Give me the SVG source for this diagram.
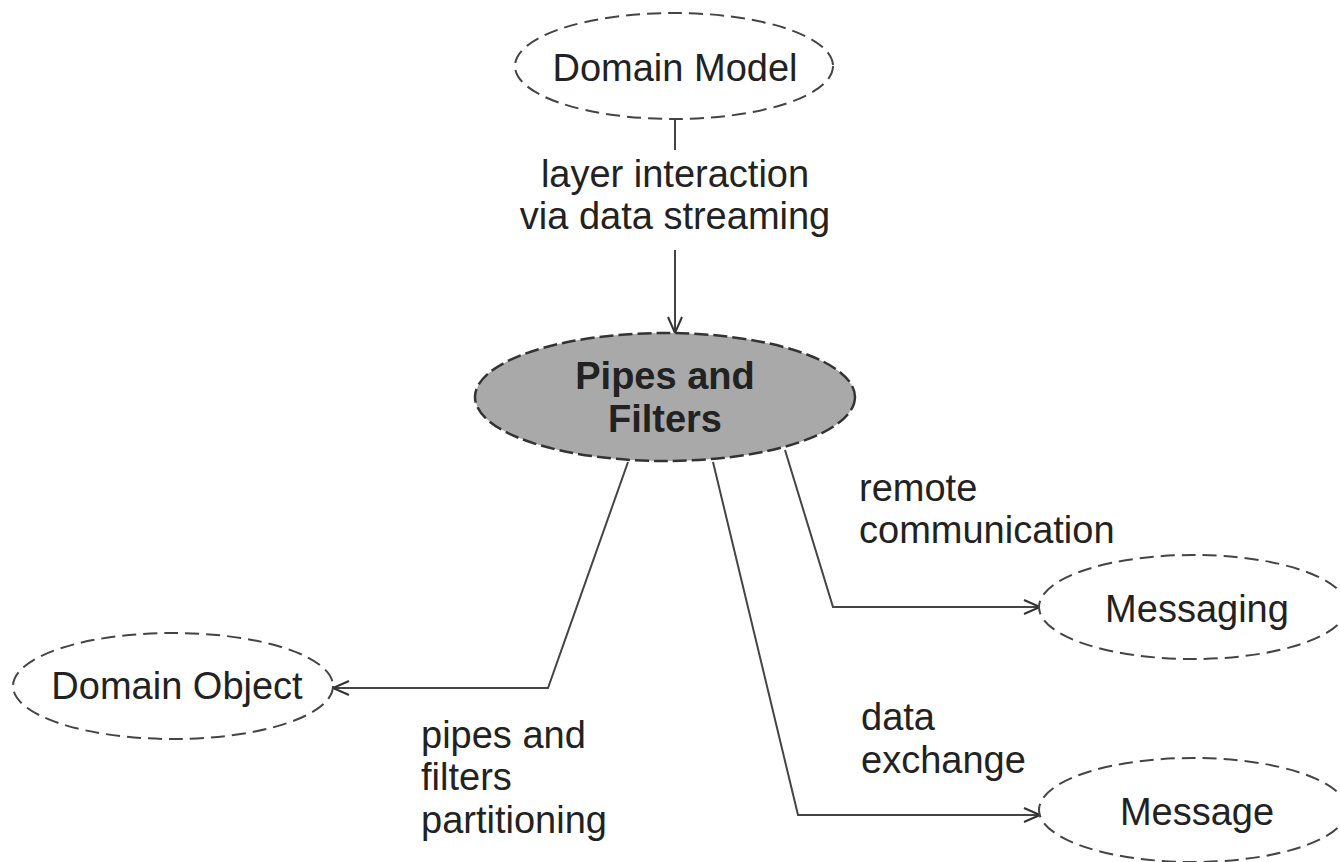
<svg xmlns="http://www.w3.org/2000/svg" width="1340" height="862" viewBox="0 0 1340 862">
<style>
.node{fill:#fff;stroke:#444;stroke-width:2;stroke-dasharray:14 7}
.main{fill:#a9a9a9;stroke:#333;stroke-width:2.5;stroke-dasharray:14 5}
.t{font-family:"Liberation Sans",Arial,sans-serif;font-size:38px;fill:#222}
.b{font-weight:bold;text-anchor:middle}
.c{fill:none;stroke:#444;stroke-width:2}
</style>
<defs>
<marker id="arr" viewBox="0 0 20 20" refX="18" refY="10" markerWidth="20" markerHeight="20" markerUnits="userSpaceOnUse" orient="auto">
<path d="M2,3 L18,10 L2,17" fill="none" stroke="#333" stroke-width="2"/>
</marker>
</defs>
<rect width="1340" height="862" fill="#fff"/>
<g id="connectors">
<path class="c" d="M675,119 V150"/>
<path class="c" d="M675,250 V333" marker-end="url(#arr)"/>
<path class="c" d="M628,462 L548,688 H333" marker-end="url(#arr)"/>
<path class="c" d="M713,462 L798,815 H1040" marker-end="url(#arr)"/>
<path class="c" d="M785,450 L833,607 H1040" marker-end="url(#arr)"/>
<text class="t" x="675" y="187" text-anchor="middle">layer interaction</text>
<text class="t" x="675" y="229" text-anchor="middle">via data streaming</text>
<text class="t" x="859" y="501">remote</text>
<text class="t" x="859" y="543">communication</text>
<text class="t" x="861" y="730">data</text>
<text class="t" x="861" y="773">exchange</text>
<text class="t" x="421" y="748">pipes and</text>
<text class="t" x="421" y="790">filters</text>
<text class="t" x="421" y="833">partitioning</text>
</g>
<g id="domain-model">
<ellipse class="node" cx="674" cy="66" rx="159" ry="53"/>
<text class="t" x="675" y="81" text-anchor="middle">Domain Model</text>
</g>
<g id="pipes-and-filters">
<ellipse class="main" cx="665" cy="397" rx="190" ry="64"/>
<text class="t b" x="665" y="389">Pipes and</text>
<text class="t b" x="665" y="432">Filters</text>
</g>
<g id="domain-object">
<ellipse class="node" cx="173" cy="686" rx="160" ry="53"/>
<text class="t" x="177" y="699" text-anchor="middle">Domain Object</text>
</g>
<g id="messaging">
<ellipse class="node" cx="1193" cy="607" rx="154" ry="52"/>
<text class="t" x="1197" y="622" text-anchor="middle">Messaging</text>
</g>
<g id="message">
<ellipse class="node" cx="1193" cy="810" rx="154" ry="52"/>
<text class="t" x="1197" y="825" text-anchor="middle">Message</text>
</g>
</svg>
